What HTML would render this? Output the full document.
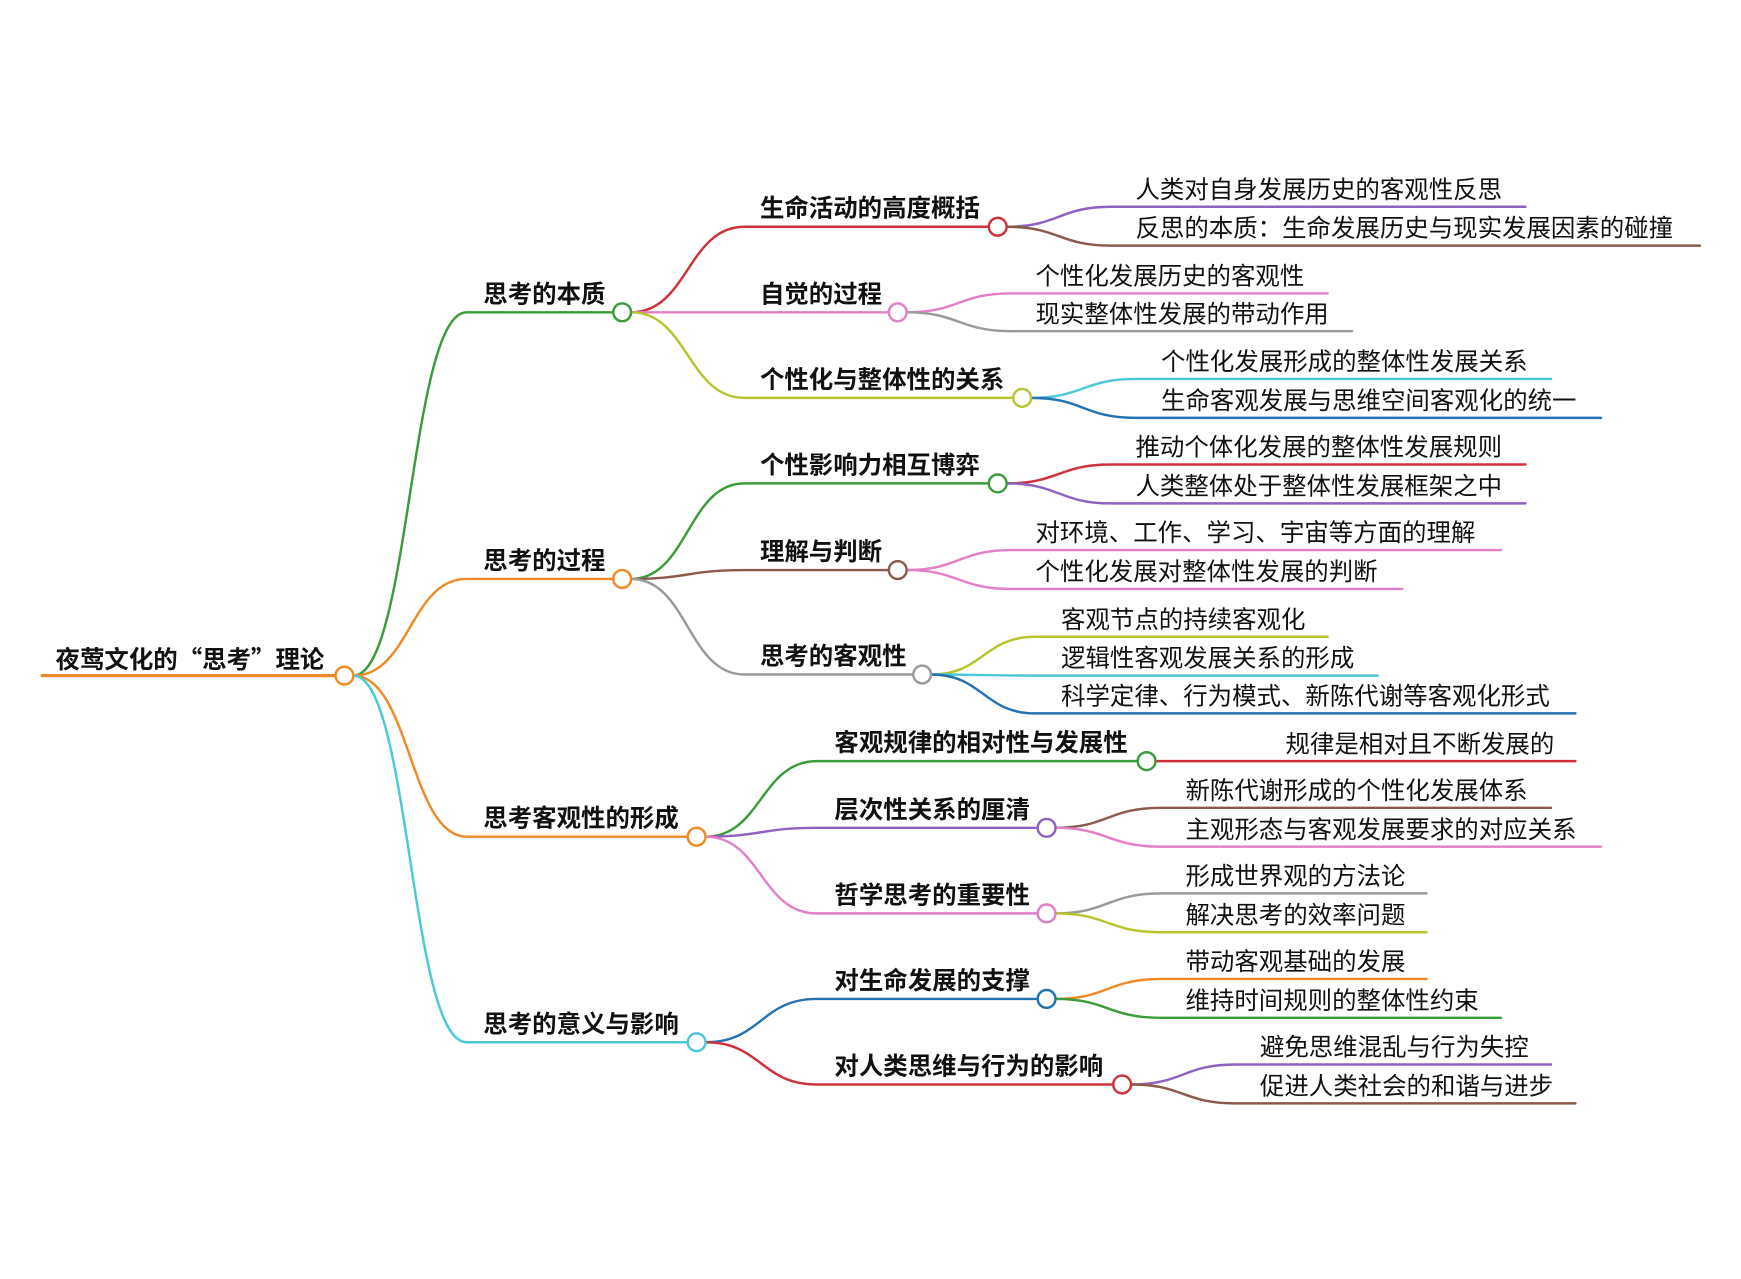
<!DOCTYPE html>
<html><head><meta charset="utf-8"><style>
html,body{margin:0;padding:0;background:#fff;}
svg{display:block;}
text{font-family:"Liberation Sans","Noto Sans CJK SC",sans-serif;font-size:22px;fill:#111;}
.b{font-weight:bold;}
.r{font-family:"Noto Sans CJK SC",sans-serif;}
path{fill:none;stroke-width:2.2;stroke-linecap:round;}
circle{fill:#fff;stroke-width:2.2;}
</style></head><body>
<svg width="1741" height="1279" viewBox="0 0 1567 1151" xmlns="http://www.w3.org/2000/svg">
<path d="M38 608 H302" stroke="#f08a24" style="stroke-width:3"/>
<text x="50" y="601" class="b r">夜莺文化的“思考”理论</text>
<path d="M318 608 C369 608 369 281 420 281 H552" stroke="#3a9c3a"/>
<path d="M318 608 C369 608 369 521 420 521 H552" stroke="#f08a24"/>
<path d="M318 608 C369 608 369 753 420 753 H619" stroke="#f08a24"/>
<path d="M318 608 C369 608 369 938 420 938 H619" stroke="#4cc9d6"/>
<text x="435" y="272" class="b">思考的本质</text>
<text x="435" y="512" class="b">思考的过程</text>
<text x="435" y="744" class="b">思考客观性的形成</text>
<text x="435" y="929" class="b">思考的意义与影响</text>
<path d="M568 281 C619 281 619 204 670 204 H890" stroke="#d0303a"/>
<path d="M568 281 C619 281 619 281 670 281 H800" stroke="#e27fc6"/>
<path d="M568 281 C619 281 619 358 670 358 H912" stroke="#b8c42c"/>
<text x="684" y="195" class="b">生命活动的高度概括</text>
<text x="684" y="272" class="b">自觉的过程</text>
<text x="684" y="349" class="b">个性化与整体性的关系</text>
<path d="M568 521 C619 521 619 435 670 435 H890" stroke="#3a9c3a"/>
<path d="M568 521 C619 521 619 513 670 513 H800" stroke="#8b5a4a"/>
<path d="M568 521 C619 521 619 607 670 607 H822" stroke="#9a9a9a"/>
<text x="684" y="426" class="b">个性影响力相互博弈</text>
<text x="684" y="504" class="b">理解与判断</text>
<text x="684" y="598" class="b">思考的客观性</text>
<path d="M635 753 C685 753 685 685 735 685 H1024" stroke="#3a9c3a"/>
<path d="M635 753 C685 753 685 745 735 745 H934" stroke="#9062c0"/>
<path d="M635 753 C685 753 685 822 735 822 H934" stroke="#e27fc6"/>
<text x="751" y="676" class="b">客观规律的相对性与发展性</text>
<text x="751" y="736" class="b">层次性关系的厘清</text>
<text x="751" y="813" class="b">哲学思考的重要性</text>
<path d="M635 938 C685 938 685 899 735 899 H934" stroke="#2472b0"/>
<path d="M635 938 C685 938 685 976 735 976 H1002" stroke="#d0303a"/>
<text x="751" y="890" class="b">对生命发展的支撑</text>
<text x="751" y="967" class="b">对人类思维与行为的影响</text>

<path d="M906 204 C953 204 953 186 1000 186 H1373" stroke="#9062c0"/>
<path d="M906 204 C953 204 953 221 1000 221 H1530" stroke="#8b5a4a"/>
<text x="1022" y="178">人类对自身发展历史的客观性反思</text>
<text x="1022" y="213">反思的本质：生命发展历史与现实发展因素的碰撞</text>
<path d="M816 281 C863 281 863 264 910 264 H1195" stroke="#e27fc6"/>
<path d="M816 281 C863 281 863 298 910 298 H1217" stroke="#9a9a9a"/>
<text x="932" y="256">个性化发展历史的客观性</text>
<text x="932" y="290">现实整体性发展的带动作用</text>
<path d="M928 358 C975 358 975 341 1022 341 H1396" stroke="#4cc9d6"/>
<path d="M928 358 C975 358 975 376 1022 376 H1441" stroke="#2472b0"/>
<text x="1045" y="333">个性化发展形成的整体性发展关系</text>
<text x="1045" y="368">生命客观发展与思维空间客观化的统一</text>
<path d="M906 435 C953 435 953 418 1000 418 H1373" stroke="#d0303a"/>
<path d="M906 435 C953 435 953 453 1000 453 H1373" stroke="#9062c0"/>
<text x="1022" y="410">推动个体化发展的整体性发展规则</text>
<text x="1022" y="445">人类整体处于整体性发展框架之中</text>
<path d="M816 513 C863 513 863 495 910 495 H1351" stroke="#e27fc6"/>
<path d="M816 513 C863 513 863 530 910 530 H1262" stroke="#e27fc6"/>
<text x="932" y="487">对环境、工作、学习、宇宙等方面的理解</text>
<text x="932" y="522">个性化发展对整体性发展的判断</text>
<path d="M838 607 C885 607 885 573 932 573 H1195" stroke="#b8c42c"/>
<path d="M838 607 C885 607 885 608 932 608 H1240" stroke="#4cc9d6"/>
<path d="M838 607 C885 607 885 642 932 642 H1418" stroke="#2472b0"/>
<text x="955" y="565">客观节点的持续客观化</text>
<text x="955" y="600">逻辑性客观发展关系的形成</text>
<text x="955" y="634">科学定律、行为模式、新陈代谢等客观化形式</text>
<path d="M1040 685 C1087 685 1087 685 1135 685 H1418" stroke="#d0303a"/>
<text x="1157" y="677">规律是相对且不断发展的</text>
<path d="M950 745 C997 745 997 727 1045 727 H1396" stroke="#8b5a4a"/>
<path d="M950 745 C997 745 997 762 1045 762 H1441" stroke="#e27fc6"/>
<text x="1067" y="719">新陈代谢形成的个性化发展体系</text>
<text x="1067" y="754">主观形态与客观发展要求的对应关系</text>
<path d="M950 822 C997 822 997 804 1045 804 H1284" stroke="#9a9a9a"/>
<path d="M950 822 C997 822 997 839 1045 839 H1284" stroke="#b8c42c"/>
<text x="1067" y="796">形成世界观的方法论</text>
<text x="1067" y="831">解决思考的效率问题</text>
<path d="M950 899 C997 899 997 881 1045 881 H1284" stroke="#f08a24"/>
<path d="M950 899 C997 899 997 916 1045 916 H1351" stroke="#3a9c3a"/>
<text x="1067" y="873">带动客观基础的发展</text>
<text x="1067" y="908">维持时间规则的整体性约束</text>
<path d="M1018 976 C1065 976 1065 958 1112 958 H1396" stroke="#9062c0"/>
<path d="M1018 976 C1065 976 1065 993 1112 993 H1418" stroke="#8b5a4a"/>
<text x="1134" y="950">避免思维混乱与行为失控</text>
<text x="1134" y="985">促进人类社会的和谐与进步</text>

<circle cx="310" cy="608" r="8" stroke="#f08a24"/>
<circle cx="560" cy="281" r="8" stroke="#3a9c3a"/>
<circle cx="560" cy="521" r="8" stroke="#f08a24"/>
<circle cx="627" cy="753" r="8" stroke="#f08a24"/>
<circle cx="627" cy="938" r="8" stroke="#4cc9d6"/>
<circle cx="898" cy="204" r="8" stroke="#d0303a"/>
<circle cx="808" cy="281" r="8" stroke="#e27fc6"/>
<circle cx="920" cy="358" r="8" stroke="#b8c42c"/>
<circle cx="898" cy="435" r="8" stroke="#3a9c3a"/>
<circle cx="808" cy="513" r="8" stroke="#8b5a4a"/>
<circle cx="830" cy="607" r="8" stroke="#9a9a9a"/>
<circle cx="1032" cy="685" r="8" stroke="#3a9c3a"/>
<circle cx="942" cy="745" r="8" stroke="#9062c0"/>
<circle cx="942" cy="822" r="8" stroke="#e27fc6"/>
<circle cx="942" cy="899" r="8" stroke="#2472b0"/>
<circle cx="1010" cy="976" r="8" stroke="#d0303a"/>
</svg>
</body></html>
